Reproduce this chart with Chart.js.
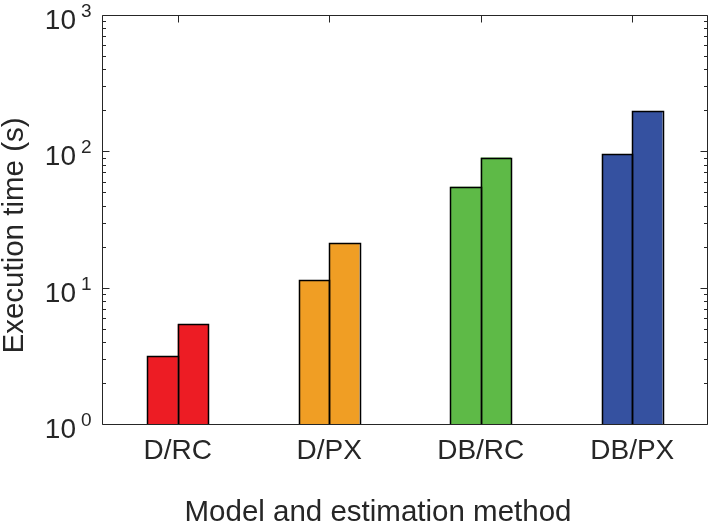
<!DOCTYPE html>
<html><head><meta charset="utf-8">
<script src="https://cdn.jsdelivr.net/npm/chart.js@4/dist/chart.umd.min.js"></script>
<style>html,body{margin:0;padding:0;background:#fff}#wrap{width:709px;height:522px;position:relative}</style>
</head><body><div id="wrap"><canvas id="c" width="709" height="522"></canvas></div>
<script>
const categories = ['D/RC', 'D/PX', 'DB/RC', 'DB/PX'];
const seriesFirst = [3.16, 11.4, 55, 95];
const seriesSecond = [5.4, 21.2, 90, 198];
const categoryColors = ['#ED1C24', '#F09E24', '#5EBA47', '#3551A0'];
const yTickExponents = [0, 1, 2, 3];
const xTitle = 'Model and estimation method';
const yTitle = 'Execution time (s)';

const FONT = '"Liberation Sans", Arial, Helvetica, sans-serif';
const TXT = '#262626';

const axesPlugin = {
  id: 'matlabAxes',
  beforeDatasetsDraw(chart) {
    const {ctx, chartArea: a, scales: {x}} = chart;
    ctx.save();
    ctx.strokeStyle = TXT; ctx.lineWidth = 1;
    ctx.beginPath();
    categories.forEach((c, i) => {
      const px = Math.round(x.getPixelForValue(i)) + 0.5;
      ctx.moveTo(px, a.bottom); ctx.lineTo(px, a.bottom - 7);
    });
    ctx.stroke();
    ctx.restore();
  },
  afterDatasetsDraw(chart) {
    const {ctx, chartArea: a, scales: {x, y}} = chart;
    ctx.save();
    // bar edges (MATLAB-style, centred on the bar outline)
    ctx.strokeStyle = '#000000'; ctx.lineWidth = 1.5; ctx.lineJoin = 'miter';
    chart.data.datasets.forEach((ds, di) => {
      chart.getDatasetMeta(di).data.forEach(el => {
        const p = el.getProps(['x', 'y', 'base', 'width'], true);
        const l = Math.round(p.x - p.width / 2) + 0.5;
        const r = Math.round(p.x + p.width / 2) + 0.5;
        const t = Math.round(p.y) + 0.5;
        const b = Math.round(p.base) + 0.5;
        ctx.beginPath();
        ctx.moveTo(l, b); ctx.lineTo(l, t); ctx.lineTo(r, t); ctx.lineTo(r, b);
        ctx.stroke();
      });
    });

    ctx.strokeStyle = TXT; ctx.lineWidth = 1;
    const L = Math.round(a.left) + 0.5, R = Math.round(a.right) - 0.5;
    const T = Math.round(a.top) + 0.5, B = Math.round(a.bottom) + 0.5;
    ctx.beginPath();
    ctx.rect(L, T, R - L, B - T);
    categories.forEach((c, i) => {
      const px = Math.round(x.getPixelForValue(i)) + 0.5;
      ctx.moveTo(px, T); ctx.lineTo(px, T + 7);
    });
    for (let e = yTickExponents[0]; e <= yTickExponents[yTickExponents.length - 1]; e++) {
      const maj = Math.round(y.getPixelForValue(Math.pow(10, e))) + 0.5;
      ctx.moveTo(L, maj); ctx.lineTo(L + 7, maj);
      ctx.moveTo(R, maj); ctx.lineTo(R - 7, maj);
      if (e < yTickExponents[yTickExponents.length - 1]) {
        for (let k = 2; k <= 9; k++) {
          const py = Math.round(y.getPixelForValue(k * Math.pow(10, e))) + 0.5;
          ctx.moveTo(L, py); ctx.lineTo(L + 3.5, py);
          ctx.moveTo(R, py); ctx.lineTo(R - 3.5, py);
        }
      }
    }
    ctx.stroke();

    ctx.fillStyle = TXT;
    yTickExponents.forEach(e => {
      const py = y.getPixelForValue(Math.pow(10, e));
      ctx.font = '28px ' + FONT;
      ctx.textAlign = 'right'; ctx.textBaseline = 'alphabetic';
      ctx.fillText('10', 76, py + 14);
      ctx.font = '19px ' + FONT;
      ctx.textAlign = 'left';
      ctx.fillText(String(e), 81, py + 2);
    });

    ctx.font = '29.5px ' + FONT;
    ctx.textAlign = 'center'; ctx.textBaseline = 'alphabetic';
    ctx.fillText(xTitle, 378, 520.5);
    ctx.save();
    ctx.translate(23, 235.5);
    ctx.rotate(-Math.PI / 2);
    ctx.fillText(yTitle, 0, 0);
    ctx.restore();
    ctx.restore();
  }
};

new Chart(document.getElementById('c'), {
  type: 'bar',
  data: {
    labels: categories,
    datasets: [
      {
        label: 'Series 1',
        data: seriesFirst,
        backgroundColor: categoryColors,
        borderWidth: 0,
        inflateAmount: 0,
        barPercentage: 1,
        categoryPercentage: 0.4
      },
      {
        label: 'Series 2',
        data: seriesSecond,
        backgroundColor: categoryColors,
        borderWidth: 0,
        inflateAmount: 0,
        barPercentage: 1,
        categoryPercentage: 0.4
      }
    ]
  },
  options: {
    responsive: false,
    animation: false,
    devicePixelRatio: 1,
    layout: {padding: {top: 15, right: 1, left: 0, bottom: 0}},
    plugins: {legend: {display: false}, tooltip: {enabled: false}, title: {display: false}},
    scales: {
      x: {
        type: 'category',
        offset: true,
        grid: {display: false, drawTicks: false},
        border: {display: false},
        ticks: {color: TXT, font: {family: FONT, size: 28, lineHeight: 1.2}, padding: 10, maxRotation: 0, autoSkip: false},
        afterFit(s) { s.height = 98; }
      },
      y: {
        type: 'logarithmic',
        min: 1,
        max: 1000,
        grid: {display: false, drawTicks: false},
        border: {display: false},
        ticks: {display: false},
        afterFit(s) { s.width = 102; }
      }
    }
  },
  plugins: [axesPlugin]
});
</script>
</body></html>
